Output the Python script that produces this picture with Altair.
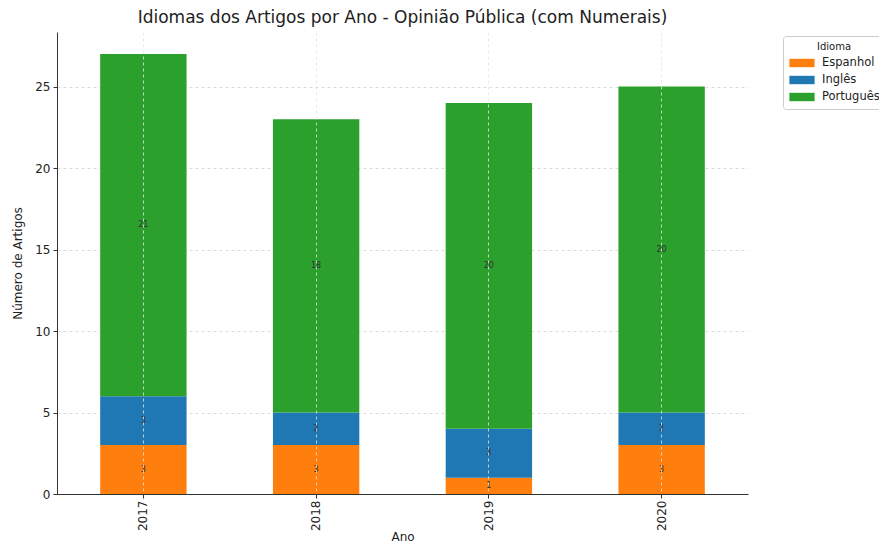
import altair as alt
import pandas as pd

anos = ["2017", "2018", "2019", "2020"]
idiomas = ["Espanhol", "Inglês", "Português"]
espanhol = [3, 3, 1, 3]
ingles = [3, 2, 3, 2]
portugues = [21, 18, 20, 20]
cores = ["#ff7f0e", "#1f77b4", "#2ca02c"]

rows = []
for i, a in enumerate(anos):
    for k, (nome, serie) in enumerate(zip(idiomas, [espanhol, ingles, portugues])):
        rows.append({"Ano": a, "Idioma": nome, "ordem": k, "n": serie[i]})
df = pd.DataFrame(rows)

FONT = "DejaVu Sans"

base = alt.Chart(df).transform_stack(
    stack="n", groupby=["Ano"], as_=["y0", "y1"], sort=[alt.SortField("ordem")]
).transform_calculate(mid="(datum.y0 + datum.y1) / 2")

xenc = alt.X(
    "Ano:N",
    sort=anos,
    title="Ano",
    scale=alt.Scale(paddingInner=0.5, paddingOuter=0.25),
    axis=alt.Axis(
        labelAngle=-90, labelFontSize=12, titleFontSize=12, labelColor="#222",
        titleColor="#222", titleFontWeight="normal", grid=True,
        gridColor="#e4e4e4", gridDash=[3, 3], gridOpacity=0.8,
        domainColor="#333", tickColor="#333", tickSize=4,
        labelPadding=2, titlePadding=1, zindex=1, labelBaseline="middle",
        labelAlign="right",
    ),
)

bars = base.mark_bar(opacity=1).encode(
    x=xenc,
    y=alt.Y(
        "y0:Q",
        title="Número de Artigos",
        scale=alt.Scale(domain=[0, 28.35], nice=False),
        axis=alt.Axis(
            values=[0, 5, 10, 15, 20, 25], labelFontSize=12, titleFontSize=12,
            labelColor="#222", titleColor="#222", titleFontWeight="normal",
            grid=True, gridColor="#dddddd",
            gridDash=[3, 3], domainColor="#333", tickColor="#333", tickSize=4,
            labelPadding=3, titlePadding=10,
        ),
    ),
    y2="y1:Q",
    color=alt.Color(
        "Idioma:N",
        scale=alt.Scale(domain=idiomas, range=cores),
        legend=alt.Legend(
            title="Idioma", orient="none", legendX=726, legendY=4,
            titleFontSize=10, labelFontSize=11.5, titleFontWeight="normal",
            titleAnchor="middle", titleColor="#222", labelColor="#222",
            symbolType="M-2.1,-0.7L2.1,-0.7L2.1,0.7L-2.1,0.7Z", symbolSize=144,
            symbolStrokeWidth=0, symbolOpacity=1, symbolOffset=7,
            strokeColor="#cccccc", cornerRadius=3, padding=6,
            rowPadding=5, labelOffset=14, titlePadding=5,
        ),
    ),
    order=alt.Order("ordem:Q"),
)

labels = base.mark_text(fontSize=8, color="#333", font=FONT).encode(
    x=alt.X("Ano:N", sort=anos),
    y=alt.Y("mid:Q"),
    text=alt.Text("n:Q"),
)

chart = alt.layer(bars, labels).properties(
    width=691,
    height=462,
    autosize=alt.AutoSizeParams(type="none"),
    padding={"left": 49, "top": 24, "right": 131, "bottom": 51},
    title=alt.TitleParams(
        "Idiomas dos Artigos por Ano - Opinião Pública (com Numerais)",
        fontSize=17, fontWeight="normal", color="#222", anchor="middle", offset=5,
    ),
).configure(font=FONT).configure_view(stroke=None)

chart.save("out.html", embed_options={"renderer": "svg", "actions": False})
